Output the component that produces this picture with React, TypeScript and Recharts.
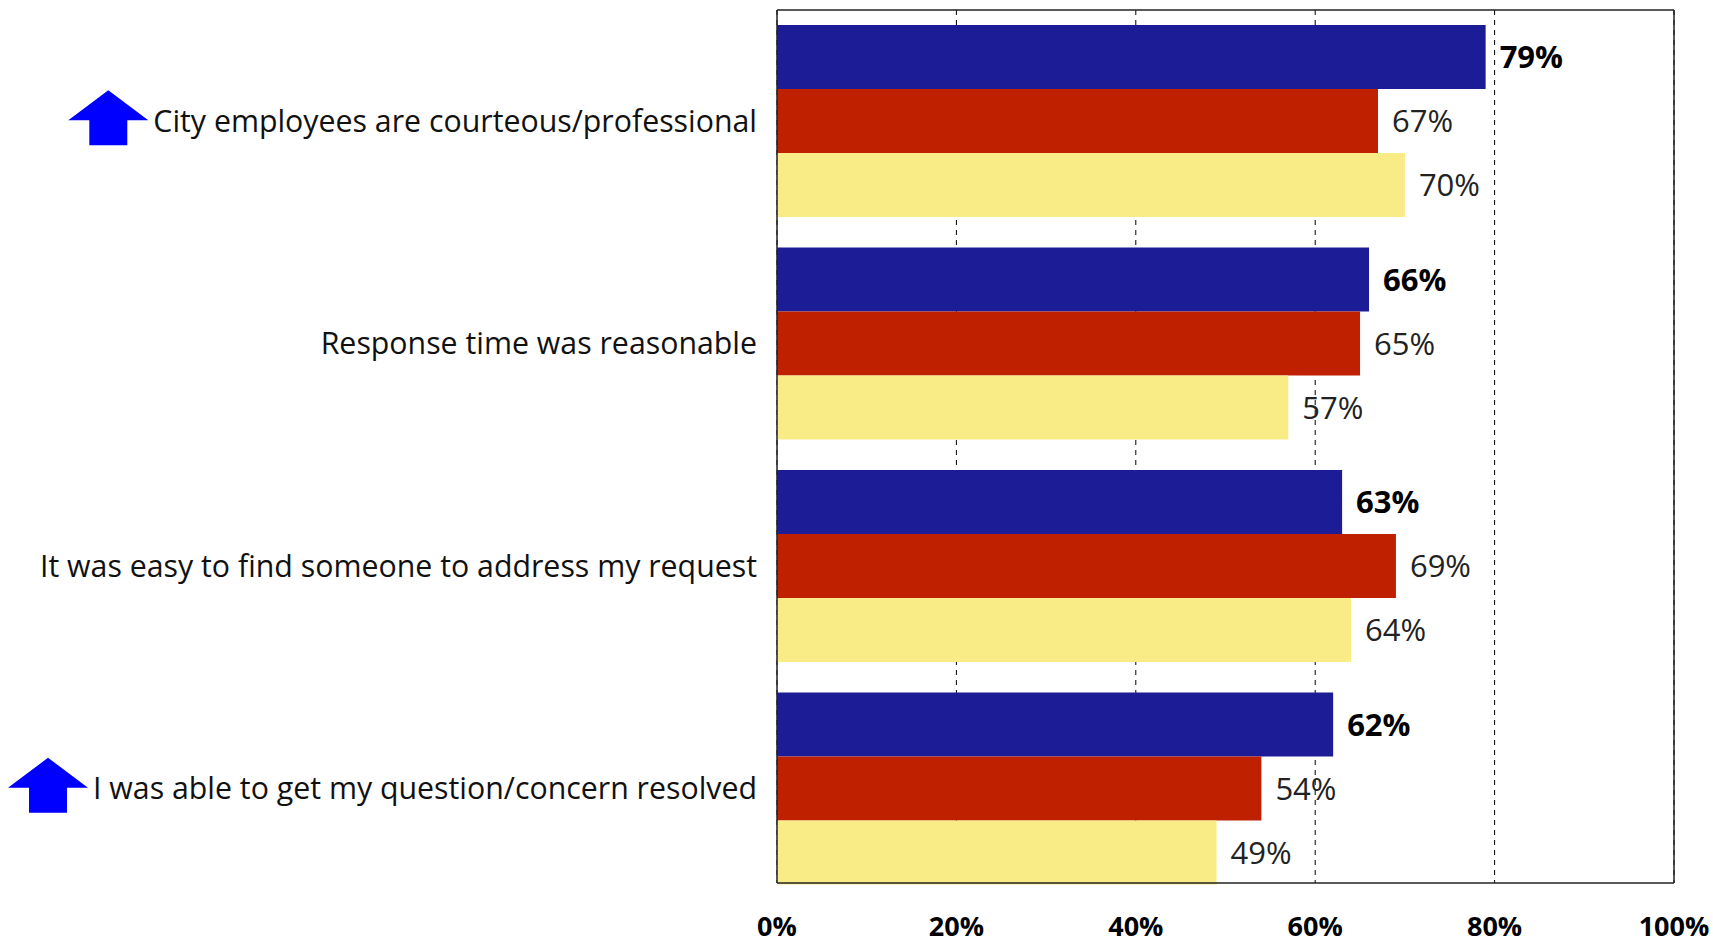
import React, { useLayoutEffect, useRef, useState } from 'react';
import { BarChart, Bar, XAxis, YAxis, CartesianGrid, LabelList } from 'recharts';

const categories = [
    'City employees are courteous/professional',
    'Response time was reasonable',
    'It was easy to find someone to address my request',
    'I was able to get my question/concern resolved',
];
const latest = [79, 66, 63, 62];
const previous = [67, 65, 69, 54];
const earlier = [70, 57, 64, 49];
// categories flagged with the blue up arrow
const improved = [true, false, false, true];
const xTicks = [0, 20, 40, 60, 80, 100];

const FONT = '"Open Sans", sans-serif';

const data = categories.map((name, i) => ({
    name,
    latest: latest[i],
    previous: previous[i],
    earlier: earlier[i],
}));

const CategoryTick = (props: any) => {
    const { x, y, payload } = props;
    const ref = useRef<SVGTextElement>(null);
    const [w, setW] = useState(0);
    useLayoutEffect(() => {
        if (ref.current) setW(ref.current.getComputedTextLength());
    }, [payload.value]);
    const i = categories.indexOf(payload.value);
    const textRight = x - 20;
    const ax = textRight - w - 5; // right edge of arrow
    return (
        <g>
            <text
                ref={ref}
                x={textRight}
                y={y}
                textAnchor="end"
                dominantBaseline="central"
                fontFamily={FONT}
                fontSize={30.3}
                fill="#111"
            >
                {payload.value}
            </text>
            {improved[i] && w > 0 && (
                <polygon
                    fill="#0000ff"
                    points={[
                        [ax - 40, y - 30],
                        [ax, y],
                        [ax - 21, y],
                        [ax - 21, y + 25],
                        [ax - 59, y + 25],
                        [ax - 59, y],
                        [ax - 80, y],
                    ].map(p => p.join(',')).join(' ')}
                />
            )}
        </g>
    );
};

const PercentTick = (props: any) => {
    const { x, y, payload } = props;
    return (
        <text
            x={x}
            y={y + 42}
            textAnchor="middle"
            dominantBaseline="central"
            fontFamily={FONT}
            fontSize={27}
            fontWeight="bold"
            fill="#000"
        >
            {`${payload.value}%`}
        </text>
    );
};

const labelStyle = { fontFamily: FONT, fontSize: 31, fill: '#222' };
const frame = { stroke: '#222', strokeWidth: 1.5 };

const App = () => {
    return (
        <div style={{ position: 'fixed', top: 0, left: 0, width: 1713, height: 945, background: '#fff' }}>
            <BarChart
                width={1713}
                height={945}
                data={data}
                layout="vertical"
                margin={{ top: 9, right: 38, bottom: 0, left: 0 }}
                barCategoryGap={16}
                barGap={0}
            >
                <CartesianGrid
                    horizontal={false}
                    stroke="#000"
                    strokeDasharray="5 5"
                />
                <XAxis
                    type="number"
                    domain={[0, 100]}
                    ticks={xTicks}
                    height={62}
                    axisLine={frame}
                    tickLine={false}
                    tickSize={0}
                    tickMargin={0}
                    tick={<PercentTick />}
                    interval={0}
                />
                <XAxis
                    xAxisId="top"
                    orientation="top"
                    type="number"
                    domain={[0, 100]}
                    ticks={xTicks}
                    height={1}
                    axisLine={frame}
                    tick={false}
                    tickLine={false}
                />
                <YAxis
                    type="category"
                    dataKey="name"
                    width={777}
                    axisLine={frame}
                    tickLine={false}
                    tickSize={0}
                    tickMargin={0}
                    padding={{ top: -1, bottom: -16 }}
                    tick={<CategoryTick />}
                    interval={0}
                />
                <YAxis
                    yAxisId="right"
                    orientation="right"
                    type="category"
                    dataKey="name"
                    width={1}
                    axisLine={frame}
                    tick={false}
                    tickLine={false}
                />
                <Bar dataKey="latest" fill="#1c1c96" isAnimationActive={false}>
                    <LabelList
                        dataKey="latest"
                        position="right"
                        offset={14}
                        formatter={(v: any) => `${v}%`}
                        style={{ ...labelStyle, fontWeight: 'bold', fill: '#000' }}
                    />
                </Bar>
                <Bar dataKey="previous" fill="#be2000" isAnimationActive={false}>
                    <LabelList
                        dataKey="previous"
                        position="right"
                        offset={14}
                        formatter={(v: any) => `${v}%`}
                        style={labelStyle}
                    />
                </Bar>
                <Bar dataKey="earlier" fill="#f9ec87" isAnimationActive={false}>
                    <LabelList
                        dataKey="earlier"
                        position="right"
                        offset={14}
                        formatter={(v: any) => `${v}%`}
                        style={labelStyle}
                    />
                </Bar>
            </BarChart>
        </div>
    );
};

export default App;
